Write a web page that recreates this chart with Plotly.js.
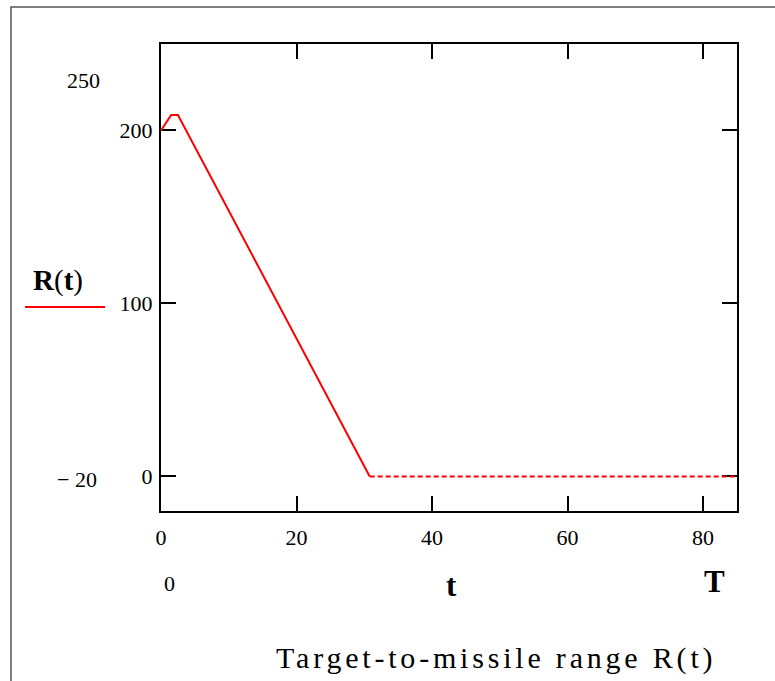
<!DOCTYPE html>
<html>
<head>
<meta charset="utf-8">
<script src="https://cdn.plot.ly/plotly-3.0.1.min.js"></script>
<style>
html,body{margin:0;padding:0;background:#fff;}
#chart{width:775px;height:681px;}
</style>
</head>
<body>
<div id="chart"></div>
<script>
// Data: target-to-missile range R(t)
const tDescent = [0, 1.5, 2.5, 30.8];
const rDescent = [200, 209, 209, 0];
const tAfter = [30.8, 85];
const rAfter = [0, 0];
const xTicks = [0, 20, 40, 60, 80];
const yTicks = [0, 100, 200];
const xRange = [0, 85];
const yRange = [-20, 250];

const FONT = '"Liberation Serif", "Times New Roman", Times, serif';

const traces = [
  {x: tDescent, y: rDescent, mode: 'lines', line: {color: '#ff0000', width: 2}, showlegend: false, hoverinfo: 'skip', cliponaxis: false},
  {x: tAfter, y: rAfter, mode: 'lines', line: {color: '#ff0000', width: 2, dash: '5px,3px'}, showlegend: false, hoverinfo: 'skip'}
];

const layout = {
  width: 775, height: 681,
  margin: {l: 161, r: 38, t: 44, b: 170, pad: 0},
  paper_bgcolor: '#fff', plot_bgcolor: '#fff',
  font: {family: FONT, size: 22, color: '#000'},
  showlegend: false,
  xaxis: {
    range: xRange, tickvals: xTicks, ticktext: xTicks.map(String),
    showgrid: false, zeroline: false,
    showline: true, linecolor: '#000', linewidth: 2, mirror: 'ticks',
    ticks: 'inside', ticklen: 15, tickwidth: 2, tickcolor: '#000',
    ticklabelstandoff: 6, layer: 'below traces',
    tickfont: {family: FONT, size: 22, color: '#000'}
  },
  yaxis: {
    range: yRange, tickvals: yTicks, ticktext: yTicks.map(String),
    showgrid: false, zeroline: false,
    showline: true, linecolor: '#000', linewidth: 2, mirror: 'ticks',
    ticks: 'inside', ticklen: 15, tickwidth: 2, tickcolor: '#000',
    ticklabelstandoff: 2, layer: 'below traces',
    tickfont: {family: FONT, size: 22, color: '#000'}
  },
  shapes: [
    {type: 'rect', xref: 'paper', yref: 'paper', x0: -0.2604, x1: 1.2, y0: -0.5, y1: 1.0792,
     line: {color: '#555', width: 1.5}, fillcolor: 'rgba(0,0,0,0)', layer: 'below'},
    {type: 'line', xref: 'paper', yref: 'paper', x0: -0.2361, x1: -0.0972, y0: 0.4368, y1: 0.4368,
     line: {color: '#ff0000', width: 2}}
  ],
  annotations: [
    {xref: 'paper', yref: 'paper', x: -0.1354, y: 0.9229, text: '250', showarrow: false, xanchor: 'center', yanchor: 'middle', font: {family: FONT, size: 22}},
    {xref: 'paper', yref: 'paper', x: -0.1458, y: 0.0664, text: '\u2212 20', showarrow: false, xanchor: 'center', yanchor: 'middle', font: {family: FONT, size: 22}},
    {xref: 'paper', yref: 'paper', x: -0.1788, y: 0.4946, text: '<b>R</b>(<b>t</b>)', showarrow: false, xanchor: 'center', yanchor: 'middle', font: {family: FONT, size: 29}},
    {xref: 'paper', yref: 'paper', x: 0.0156, y: -0.156, text: '0', showarrow: false, xanchor: 'center', yanchor: 'middle', font: {family: FONT, size: 22}},
    {xref: 'paper', yref: 'paper', x: 0.5052, y: -0.160, text: '<b>t</b>', showarrow: false, xanchor: 'center', yanchor: 'middle', font: {family: FONT, size: 31}},
    {xref: 'paper', yref: 'paper', x: 0.9618, y: -0.152, text: '<b>T</b>', showarrow: false, xanchor: 'center', yanchor: 'middle', font: {family: FONT, size: 31}},
    {xref: 'paper', yref: 'paper', x: 0.5816, y: -0.3148, text: '<span style="letter-spacing:3.8px">Target-to-missile range R(t)</span>', showarrow: false, xanchor: 'center', yanchor: 'middle', font: {family: FONT, size: 30}}
  ]
};

Plotly.newPlot('chart', traces, layout, {staticPlot: true, displayModeBar: false});
</script>
</body>
</html>
